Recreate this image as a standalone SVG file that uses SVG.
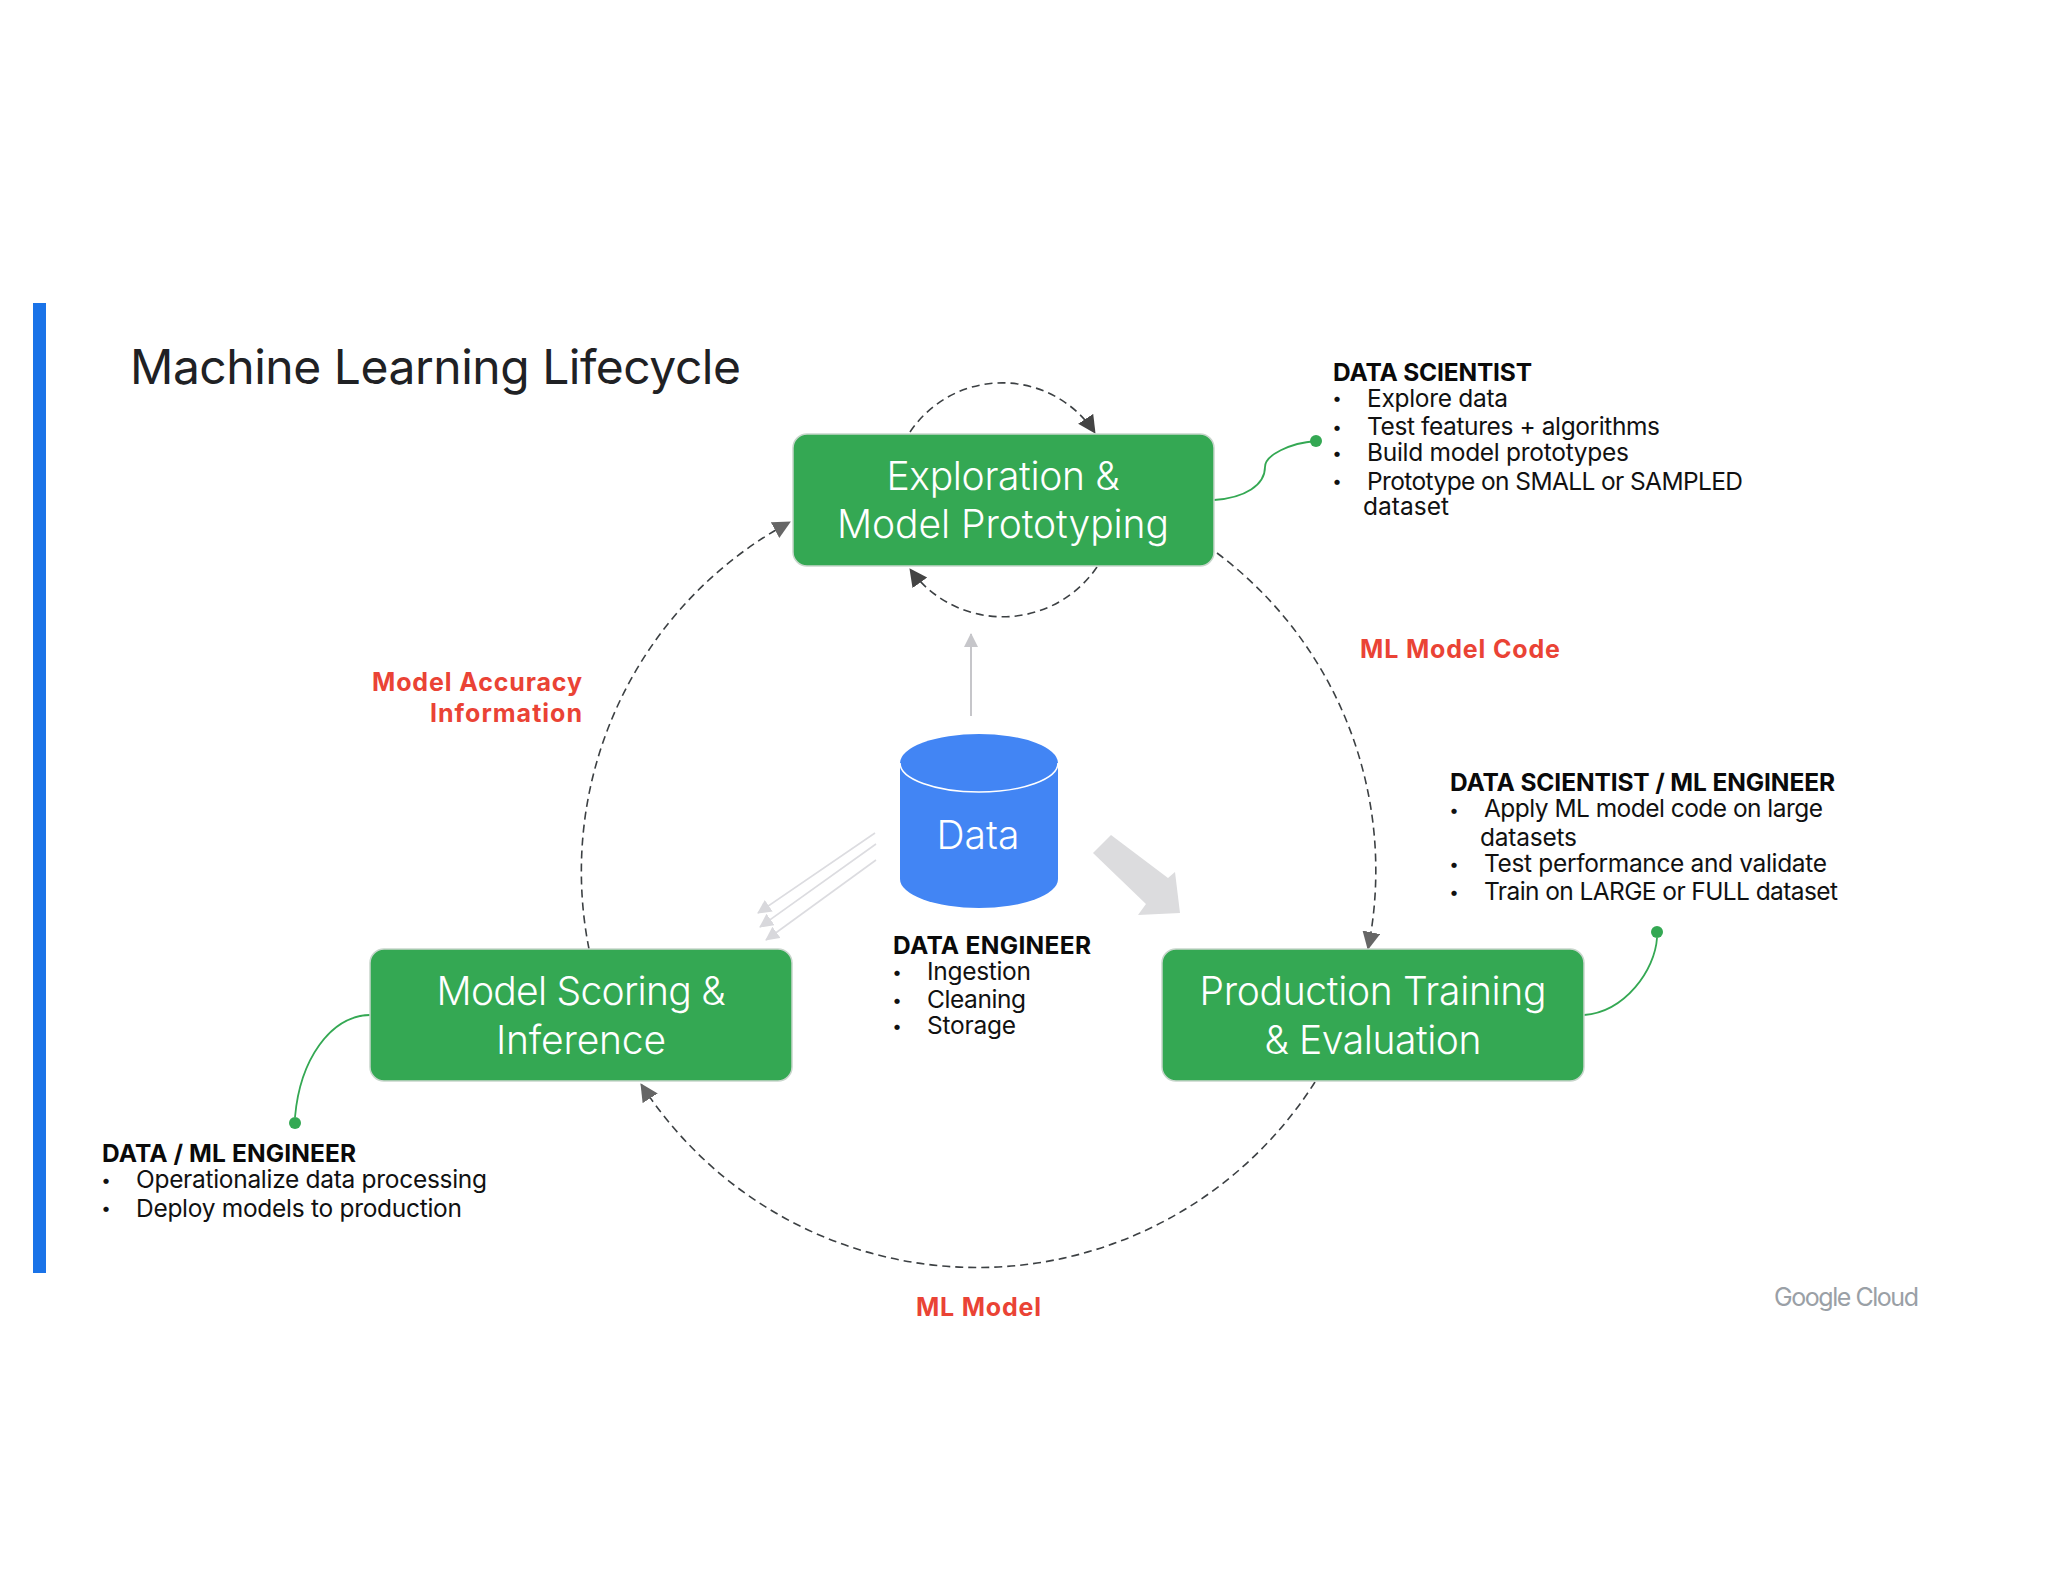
<svg xmlns="http://www.w3.org/2000/svg" width="2048" height="1582" viewBox="0 0 2048 1582">
<style>
text{font-family:"Inter","Noto Sans","Liberation Sans",sans-serif}
.b{font-size:24.5px;font-weight:400;fill:#111}
.u{font-size:17px;font-weight:400;fill:#111;text-anchor:middle}
.h{font-size:24.5px;font-weight:700;fill:#0a0a0a}
.r{font-size:25px;font-weight:700;fill:#ea4335}
.w{font-size:39px;font-weight:300;fill:#fff;text-anchor:middle}
.box{fill:#34a853;stroke:#c8d6cc;stroke-width:1.5}
.dash{fill:none;stroke:#3c4043;stroke-width:1.6;stroke-dasharray:8 5}
.lead{fill:none;stroke:#34a853;stroke-width:1.8}
.dot{fill:#34a853}
.thin{stroke:#dcdce0;stroke-width:1.6;fill:none}
</style>
<defs>
<marker id="ah" markerUnits="userSpaceOnUse" markerWidth="20" markerHeight="20" refX="17" refY="9" orient="auto"><path d="M0 0L18 9L0 18Z" fill="#444"/></marker>
<marker id="ah2" markerUnits="userSpaceOnUse" markerWidth="20" markerHeight="20" refX="17" refY="9" orient="auto"><path d="M0 0L18 9L0 18Z" fill="#666"/></marker>
<marker id="ag" markerUnits="userSpaceOnUse" markerWidth="16" markerHeight="14" refX="13" refY="7" orient="auto"><path d="M0 0L14 7L0 14Z" fill="#c6c6ca"/></marker>
<marker id="at" markerUnits="userSpaceOnUse" markerWidth="16" markerHeight="16" refX="13" refY="7" orient="auto"><path d="M0 0L14 7L0 14Z" fill="#d8d8dc"/></marker>
</defs>
<rect width="2048" height="1582" fill="#fff"/>
<rect id="accent-bar" x="33" y="303" width="13" height="970" fill="#1a73e8"/>
<text id="title" x="130" y="384" font-size="48" textLength="611" style="fill:#202124;font-weight:400">Machine Learning Lifecycle</text>

<g id="connectors">
<path class="dash" d="M589 949A397 397 0 0 1 790 522" marker-end="url(#ah2)"/>
<path class="dash" d="M1217 553A397 397 0 0 1 1368 949" marker-end="url(#ah2)"/>
<path class="dash" d="M1315 1082A400 400 0 0 1 641 1084" marker-end="url(#ah2)"/>
<path class="dash" d="M910 432A111 111 0 0 1 1095 433" marker-end="url(#ah)"/>
<path class="dash" d="M1097 567A114 114 0 0 1 910 569" marker-end="url(#ah)"/>
<line x1="971" y1="716" x2="971" y2="634" stroke="#c6c6ca" stroke-width="2" marker-end="url(#ag)"/>
<line class="thin" x1="875" y1="833" x2="758" y2="913" marker-end="url(#at)"/>
<line class="thin" x1="876" y1="844" x2="760" y2="927" marker-end="url(#at)"/>
<line class="thin" x1="876" y1="860" x2="766" y2="940" marker-end="url(#at)"/>
<polygon points="1111,835 1168,878 1175,872 1180,913 1138,915 1146,904 1093,853" fill="#dcdcde"/>
<path class="lead" d="M1214 500C1245 498 1265 485 1265 467C1265 455 1290 443 1316 441"/>
<path class="lead" d="M1584 1015C1625 1012 1655 970 1657 938"/>
<path class="lead" d="M370 1015C330 1016 300 1060 295 1117"/>
</g>

<g id="node-exploration">
<rect class="box" x="793" y="434" width="421" height="132" rx="14"/>
<text class="w" x="1003" y="490" textLength="233">Exploration &amp;</text>
<text class="w" x="1003" y="538" textLength="332">Model Prototyping</text>
</g>
<g id="node-scoring">
<rect class="box" x="370" y="949" width="422" height="132" rx="14"/>
<text class="w" x="581" y="1005" textLength="289">Model Scoring &amp;</text>
<text class="w" x="581" y="1054" textLength="170">Inference</text>
</g>
<g id="node-training">
<rect class="box" x="1162" y="949" width="422" height="132" rx="14"/>
<text class="w" x="1373" y="1005" textLength="347">Production Training</text>
<text class="w" x="1373" y="1054" textLength="217">&amp; Evaluation</text>
</g>
<g id="node-data">
<path d="M900 763V879A79 29 0 0 0 1058 879V763Z" fill="#4285f4"/>
<ellipse cx="979" cy="763" rx="79" ry="29" fill="#4285f4"/>
<path d="M900 763A79 29 0 0 0 1058 763" fill="none" stroke="#fff" stroke-width="1.6"/>
<text class="w" x="978" y="849" textLength="83">Data</text>
</g>

<g id="note-scientist">
<circle class="dot" cx="1316" cy="441" r="6"/>
<text class="h" x="1333" y="381" textLength="199">DATA SCIENTIST</text>
<text class="u" x="1337" y="404">•</text><text class="b" x="1367" y="407" textLength="141">Explore data</text>
<text class="u" x="1337" y="433">•</text><text class="b" x="1367" y="435" textLength="293">Test features + algorithms</text>
<text class="u" x="1337" y="459">•</text><text class="b" x="1367" y="461" textLength="262">Build model prototypes</text>
<text class="u" x="1337" y="487">•</text><text class="b" x="1367" y="490" textLength="376">Prototype on SMALL or SAMPLED</text>
<text class="b" x="1363" y="515" textLength="86">dataset</text>
</g>
<g id="note-scientist-engineer">
<circle class="dot" cx="1657" cy="932" r="6"/>
<text class="h" x="1450" y="791" textLength="385">DATA SCIENTIST / ML ENGINEER</text>
<text class="u" x="1454" y="816">•</text><text class="b" x="1484" y="817" textLength="339">Apply ML model code on large</text>
<text class="b" x="1480" y="846" textLength="97">datasets</text>
<text class="u" x="1454" y="870">•</text><text class="b" x="1484" y="872" textLength="343">Test performance and validate</text>
<text class="u" x="1454" y="898">•</text><text class="b" x="1484" y="900" textLength="354">Train on LARGE or FULL dataset</text>
</g>
<g id="note-engineer">
<circle class="dot" cx="295" cy="1123" r="6"/>
<text class="h" x="102" y="1162" textLength="254">DATA / ML ENGINEER</text>
<text class="u" x="106" y="1186">•</text><text class="b" x="136" y="1188" textLength="351">Operationalize data processing</text>
<text class="u" x="106" y="1214">•</text><text class="b" x="136" y="1217" textLength="326">Deploy models to production</text>
</g>
<g id="note-data-engineer">
<text class="h" x="893" y="954" textLength="198">DATA ENGINEER</text>
<text class="u" x="897" y="978">•</text><text class="b" x="927" y="980" textLength="104">Ingestion</text>
<text class="u" x="897" y="1006">•</text><text class="b" x="927" y="1008" textLength="99">Cleaning</text>
<text class="u" x="897" y="1032">•</text><text class="b" x="927" y="1034" textLength="89">Storage</text>
</g>

<g id="labels">
<text class="r" x="1360" y="658" textLength="200">ML Model Code</text>
<text class="r" x="372" y="691" textLength="210">Model Accuracy</text>
<text class="r" x="430" y="722" textLength="152">Information</text>
<text class="r" x="916" y="1316" textLength="125">ML Model</text>
</g>
<text id="google-cloud" x="1774" y="1306" font-size="25" textLength="145" style="fill:#9aa0a6;font-weight:400">Google Cloud</text>
</svg>
